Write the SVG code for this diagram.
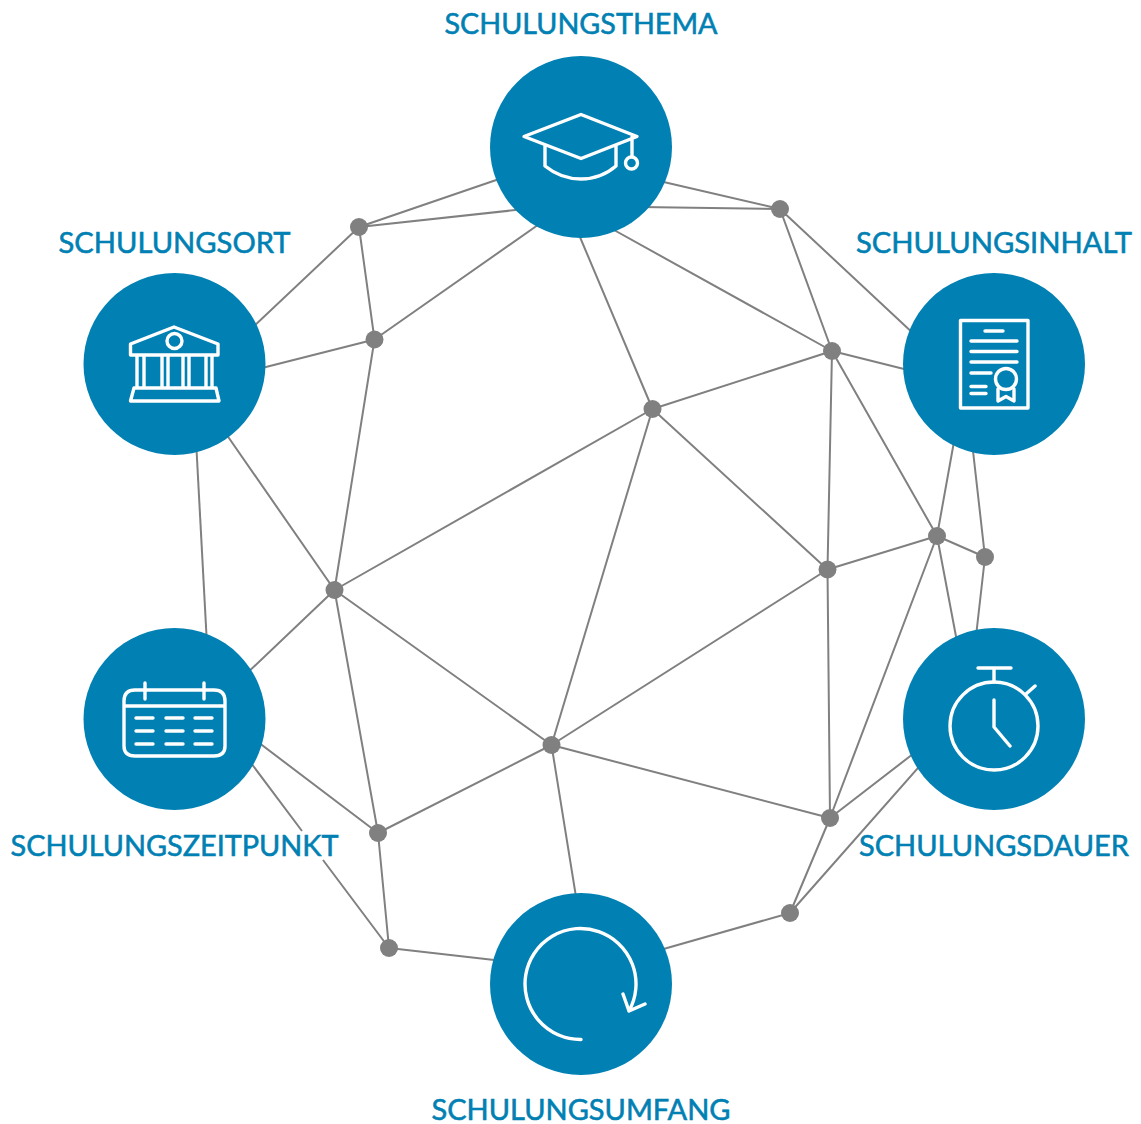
<svg xmlns="http://www.w3.org/2000/svg" width="1141" height="1124" viewBox="0 0 1141 1124">
<style>
.e{stroke:#808080;stroke-width:2;fill:none}
.d{fill:#808080}
.c{fill:#0080b3}
.i{fill:none;stroke:#fff;stroke-width:3.4;stroke-linecap:round;stroke-linejoin:round}
.t{font-family:"Lato","Liberation Sans",sans-serif;font-size:28px;font-weight:400;fill:#0080b3;stroke:#0080b3;stroke-width:.55;text-anchor:middle}
</style>
<rect width="1141" height="1124" fill="#fff"/>
<g id="connectors" class="e">
<path d="M359 227L505 177M359 227L525 209M359 227L374.500 339.500M359 227L250 330M374.500 339.500L258 369M374.500 339.500L545 220M374.500 339.500L334.500 590"/>
<path d="M780 209L655 180M780 209L640 207M780 209L832 351M780 209L916 336"/>
<path d="M832 351L605 225M832 351L912 371M832 351L652.500 409M832 351L827.500 569.500M832 351L937 536"/>
<path d="M652.500 409L577 230M652.500 409L334.500 590M652.500 409L827.500 569.500M652.500 409L551.500 745"/>
<path d="M937 536L955 436M937 536L985 557M937 536L827.500 569.500M937 536L958 647M937 536L830 818"/>
<path d="M985 557L972 442M985 557L975 645"/>
<path d="M827.500 569.500L551.500 745M827.500 569.500L830 818"/>
<path d="M334.500 590L222 428M334.500 590L243 677M334.500 590L378 833M334.500 590L551.500 745"/>
<path d="M551.500 745L378 833M551.500 745L830 818M551.500 745L577 903"/>
<path d="M830 818L922 747M830 818L790 913"/>
<path d="M790 913L925 760M790 913L653 952"/>
<path d="M378 833L250 736M378 833L389 948"/>
<path d="M389 948L323 860M302 831L245 755M389 948L503 961"/>
<path d="M196 440L207 645"/>
</g>
<g id="dots" class="d">
<circle cx="359" cy="227" r="9"/><circle cx="374.500" cy="339.500" r="9"/><circle cx="780" cy="209" r="9"/><circle cx="832" cy="351" r="9"/><circle cx="652.500" cy="409" r="9"/><circle cx="937" cy="536" r="9"/><circle cx="985" cy="557" r="9"/><circle cx="827.500" cy="569.500" r="9"/><circle cx="334.500" cy="590" r="9"/><circle cx="551.500" cy="745" r="9"/><circle cx="830" cy="818" r="9"/><circle cx="378" cy="833" r="9"/><circle cx="389" cy="948" r="9"/><circle cx="790" cy="913" r="9"/>
</g>
<g id="schulungsthema">
<circle class="c" cx="581" cy="147" r="91"/>
<path class="i" d="M581 114.500L637 136.500L581 158.500L524 136.500ZM545 146V166Q561 179 581 179Q601 179 616 166V146M632 137V156"/>
<circle class="i" cx="631.500" cy="163" r="6"/>
<text class="t" x="581" y="33.500" textLength="273" lengthAdjust="spacingAndGlyphs">SCHULUNGSTHEMA</text>
</g>
<g id="schulungsinhalt">
<circle class="c" cx="994" cy="364" r="91"/>
<path class="i" d="M960.500 320.500H1028V408H960.500ZM985 331H1003M971 341H1017M971 351.500H1017M971 362H1017M971 373H991M971 386.500H986M971 393.500H986M998 389V401L1006 396.500L1014 401V389"/>
<circle class="i" cx="1006" cy="379" r="10.500"/>
<text class="t" x="994" y="252.500" textLength="276" lengthAdjust="spacingAndGlyphs">SCHULUNGSINHALT</text>
</g>
<g id="schulungsort">
<circle class="c" cx="174.500" cy="364" r="91"/>
<path class="i" d="M174 327L218 344V355H130.500V344ZM137 355V388M144 355V388M162 355V388M168 355V388M183 355V388M189 355V388M206 355V388M212 355V388M134 388H216L219 401H130.500L134 388Z"/>
<circle class="i" cx="174.500" cy="341" r="7.500"/>
<text class="t" x="174.500" y="252.500" textLength="232" lengthAdjust="spacingAndGlyphs">SCHULUNGSORT</text>
</g>
<g id="schulungszeitpunkt">
<circle class="c" cx="174.500" cy="719" r="91"/>
<path class="i" d="M135 690H214Q225 690 225 701V746Q225 756 214 756H135Q124 756 124 746V701Q124 690 135 690ZM124 706H225M145 683V699M204 683V699M136 718H153M166 718H183M195 718H212M136 731H153M166 731H183M195 731H212M136 744H153M166 744H183M195 744H212"/>
<text class="t" x="174.500" y="856" textLength="328" lengthAdjust="spacingAndGlyphs">SCHULUNGSZEITPUNKT</text>
</g>
<g id="schulungsdauer">
<circle class="c" cx="994" cy="719" r="91"/>
<path class="i" d="M978 668H1011M994 668V682M1026 694L1035 686M994 700V727L1010 746"/>
<circle class="i" cx="994" cy="726" r="44"/>
<text class="t" x="994" y="856" textLength="270" lengthAdjust="spacingAndGlyphs">SCHULUNGSDAUER</text>
</g>
<g id="schulungsumfang">
<circle class="c" cx="581" cy="984" r="91"/>
<path class="i" d="M581 1039.500A55.500 55.500 0 1 1 629 1011M623 994L629 1011L645 1004"/>
<text class="t" x="581" y="1120" textLength="299" lengthAdjust="spacingAndGlyphs">SCHULUNGSUMFANG</text>
</g>
</svg>
